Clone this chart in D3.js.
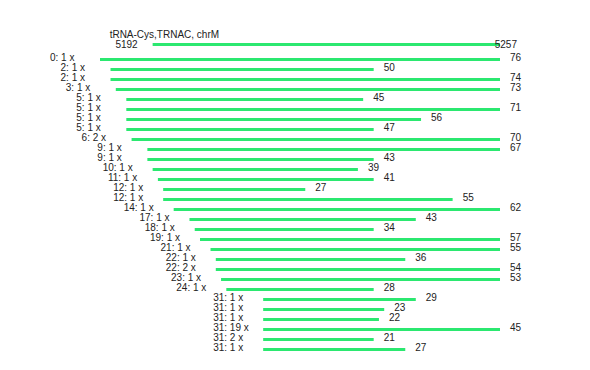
<!DOCTYPE html>
<html><head><meta charset="utf-8">
<script src="https://cdn.jsdelivr.net/npm/d3@7"></script>
<style>body{margin:0;background:#fff}svg{display:block}text{font-family:"Liberation Sans",Arial,sans-serif;font-size:10px;fill:#222}</style>
</head><body>
<script>
const title = "tRNA-Cys,TRNAC, chrM";
const refStartCoord = 5192;
const refEndCoord = 5257;
const refOffset = 10;
const starts  = [0,2,2,3,5,5,5,5,6,9,9,10,11,12,12,14,17,18,19,21,22,22,23,24,31,31,31,31,31,31];
const counts  = [1,1,1,1,1,1,1,1,2,1,1,1,1,1,1,1,1,1,1,1,1,2,1,1,1,1,1,19,2,1];
const lengths = [76,50,74,73,45,71,56,47,70,67,43,39,41,27,55,62,43,34,57,55,36,54,53,28,29,23,22,45,21,27];

const W = 590, H = 370, green = "#2be870";
const svg = d3.select("body").append("svg").attr("width", W).attr("height", H);
const x = d3.scaleLinear().domain([0, 76]).range([100, 500]);
const y = d3.scaleLinear().domain([0, starts.length - 1]).range([59.5, 349.5]);

const rows = starts.map((s, i) => ({s, c: counts[i], l: lengths[i], i}));

// reference
const refLen = refEndCoord - refStartCoord + 1;
svg.append("text").attr("x", x(refOffset) - 43).attr("y", 37.5).text(title);
svg.append("line").attr("x1", x(refOffset)).attr("x2", x(refOffset + refLen))
  .attr("y1", 44.5).attr("y2", 44.5).attr("stroke", green).attr("stroke-width", 3);
svg.append("text").attr("x", x(refOffset) - 15).attr("y", 47.5).attr("text-anchor", "end").text(refStartCoord);
svg.append("text").attr("x", x(refOffset + refEndCoord - refStartCoord)).attr("y", 47.5).text(refEndCoord);

const g = svg.append("g");
g.selectAll("line.r").data(rows).join("line").attr("class", "r")
  .attr("x1", d => x(d.s)).attr("x2", d => x(d.s + d.l))
  .attr("y1", d => y(d.i)).attr("y2", d => y(d.i))
  .attr("stroke", green).attr("stroke-width", 3);
g.selectAll("text.lft").data(rows).join("text").attr("class", "lft")
  .attr("x", d => x(d.s) - 50).attr("y", d => y(d.i) + 1)
  .text(d => `${d.s}: ${d.c} x`);
g.selectAll("text.rgt").data(rows).join("text").attr("class", "rgt")
  .attr("x", d => x(d.s + d.l) + 10).attr("y", d => y(d.i) + 1)
  .text(d => d.l);
</script>
</body></html>
